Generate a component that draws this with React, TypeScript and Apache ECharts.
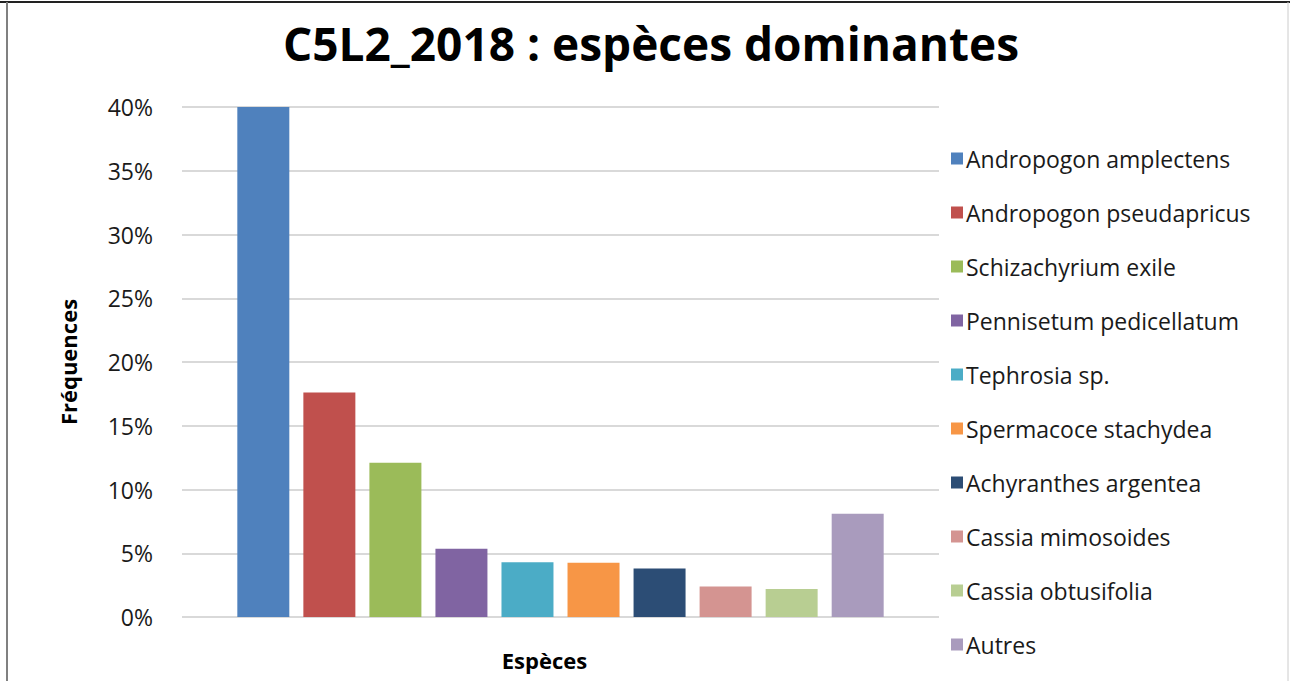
import React, { useEffect, useRef } from "react";
import * as echarts from "echarts";

const titleText = "C5L2_2018 : espèces dominantes";
const species = [
  "Andropogon amplectens",
  "Andropogon pseudapricus",
  "Schizachyrium exile",
  "Pennisetum pedicellatum",
  "Tephrosia sp.",
  "Spermacoce stachydea",
  "Achyranthes argentea",
  "Cassia mimosoides",
  "Cassia obtusifolia",
  "Autres",
];
const frequencies = [40.0, 17.6, 12.1, 5.35, 4.3, 4.25, 3.8, 2.4, 2.2, 8.1];
const colors = [
  "#4F81BD",
  "#C0504D",
  "#9BBB59",
  "#8064A2",
  "#4BACC6",
  "#F79646",
  "#2C4D75",
  "#D49491",
  "#B8CE92",
  "#A99BBD",
];
const yTicks = { min: 0, max: 40, interval: 5 };

const FONT = "'Open Sans', Lato, 'Noto Sans', sans-serif";

export default function App() {
  const ref = useRef<HTMLDivElement>(null);
  useEffect(() => {
    if (!ref.current) return;
    const chart = echarts.init(ref.current, undefined, { renderer: "svg" });
    const series = species.map((name, i) => ({
      name,
      type: "bar" as const,
      data: [frequencies[i]],
      barWidth: 52,
      barGap: "27%",
      itemStyle: { color: colors[i] },
    }));
    chart.setOption({
      animation: false,
      backgroundColor: "#ffffff",
      textStyle: { fontFamily: FONT },
      title: {
        text: titleText,
        left: 646,
        textAlign: "center",
        top: 15,
        textStyle: {
          fontFamily: FONT,
          fontSize: 46,
          fontWeight: "bold",
          color: "#000000",
        },
      },
      grid: { left: 182, right: 351, top: 107, bottom: 64, containLabel: false },
      legend: {
        orient: "vertical",
        left: 946,
        top: 142,
        icon: "rect",
        itemWidth: 12,
        itemHeight: 12,
        itemGap: 31,
        data: species,
        textStyle: {
          fontFamily: FONT,
          fontSize: 23,
          color: "#1a1a1a",
          lineHeight: 20,
          padding: [0, 0, 0, -2],
        },
      },
      xAxis: {
        type: "category",
        data: [""],
        axisLine: { show: false },
        axisTick: { show: false },
        axisLabel: { show: false },
        name: "Espèces",
        nameLocation: "middle",
        nameGap: 32,
        nameTextStyle: {
          fontFamily: FONT,
          fontSize: 22,
          fontWeight: "bold",
          color: "#000000",
          padding: [0, 32, 0, 0],
        },
      },
      yAxis: {
        type: "value",
        min: yTicks.min,
        max: yTicks.max,
        interval: yTicks.interval,
        axisLine: { show: false },
        axisTick: { show: false },
        splitLine: { show: true, lineStyle: { color: "#d9d9d9", width: 2 } },
        axisLabel: {
          formatter: (v: number) => `${v}%`,
          fontFamily: FONT,
          fontSize: 23,
          color: "#1a1a1a",
          margin: 29,
        },
        name: "Fréquences",
        nameLocation: "middle",
        nameRotate: 90,
        nameGap: 103,
        nameTextStyle: {
          fontFamily: FONT,
          fontSize: 22,
          fontWeight: "bold",
          color: "#000000",
        },
      },
      graphic: [
        {
          type: "line",
          shape: { x1: 0, y1: 2, x2: 1290, y2: 2 },
          style: { stroke: "#222222", lineWidth: 2 },
        },
        {
          type: "line",
          shape: { x1: 7, y1: 2, x2: 7, y2: 681 },
          style: { stroke: "#808080", lineWidth: 2 },
        },
        {
          type: "line",
          shape: { x1: 1288, y1: 2, x2: 1288, y2: 681 },
          style: { stroke: "#cccccc", lineWidth: 1 },
        },
      ],
      series,
    });
    return () => chart.dispose();
  }, []);
  return (
    <div
      ref={ref}
      style={{ position: "fixed", left: 0, top: 0, width: 1290, height: 681 }}
    />
  );
}
